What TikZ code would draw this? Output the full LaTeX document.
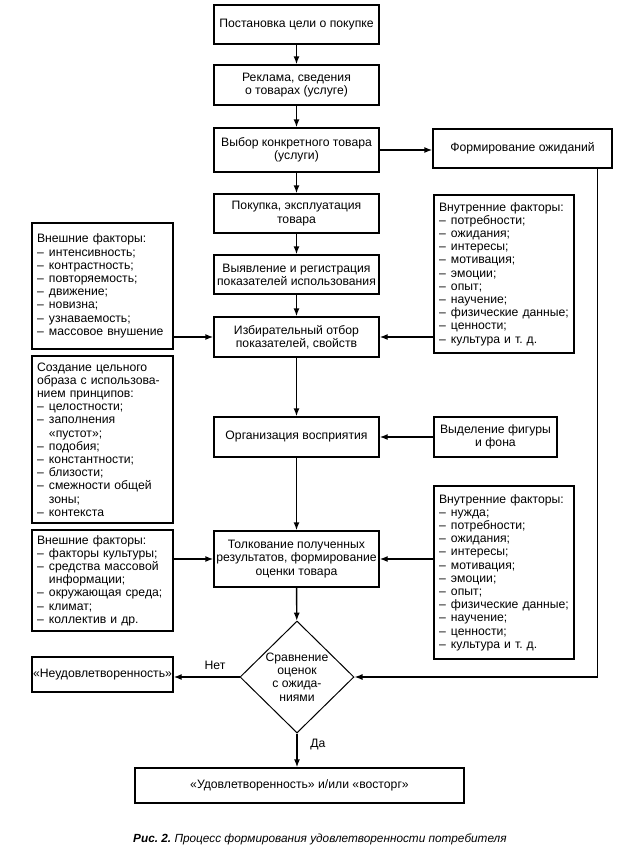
\documentclass[tikz,border=0pt]{standalone}
\usepackage{fontspec}
\setmainfont{Liberation Sans}
\usetikzlibrary{shapes.geometric,arrows.meta,calc}
\frenchspacing
\newcommand\fs{\fontsize{12.2}{13.2}\selectfont}
\newcommand\itm{\makebox[12pt][l]{–}}
\newcommand\cnt{\hspace*{12pt}}
\tikzset{
 box/.style={draw, line width=1.4pt, align=center, inner sep=1pt, font=\fs, minimum width=165pt},
 listbox/.style={draw, line width=1.4pt, align=left, inner xsep=5pt, inner ysep=2pt, font=\fs},
 arr/.style={line width=1.4pt, -{Latex[length=8pt,width=6pt]}},
 lbl/.style={font=\fs, inner sep=1pt},
}
\begin{document}
\begin{tikzpicture}[x=1pt,y=-1pt]
\useasboundingbox (0,0) rectangle (624,857);
% main column
\node[box, minimum height=39pt] (b1) at (296.5,24.5) {Постановка цели о покупке};
\node[box, minimum height=40pt] (b2) at (296.5,85) {Реклама, сведения\\о товарах (услуге)};
\node[box, minimum height=44pt] (b3) at (296.5,150) {Выбор конкретного товара\\(услуги)};
\node[box, minimum height=39pt, minimum width=179pt] (form) at (522.5,148.5) {Формирование ожиданий};
\node[box, minimum height=39pt] (b4) at (296.5,213.5) {Покупка, эксплуатация\\товара};
\node[box, minimum height=39pt] (b5) at (296.5,274.5) {Выявление и регистрация\\показателей использования};
\node[box, minimum height=40pt] (b6) at (296.5,337) {Избирательный отбор\\показателей, свойств};
\node[box, minimum height=40pt] (org) at (296.5,437) {Организация восприятия};
\node[box, minimum height=56pt] (tolk) at (296.5,559) {Толкование полученных\\результатов, формирование\\оценки товара};
\node[draw, line width=1pt, diamond, inner sep=-5pt, minimum width=114pt, minimum height=112pt, align=center, font=\fs] (dia) at (297,677) {Сравнение\\оценок\\с ожида-\\ниями};
\node[box, minimum height=35pt, minimum width=329pt] (fin) at (299.5,785.5) {«Удовлетворенность» и/или «восторг»};
% left column
\node[listbox, text width=131pt, minimum height=126pt] (ext1) at (102.5,286) {Внешние факторы:\\
\itm интенсивность;\\
\itm контрастность;\\
\itm повторяемость;\\
\itm движение;\\
\itm новизна;\\
\itm узнаваемость;\\
\itm массовое внушение};
\node[listbox, text width=131pt, minimum height=167pt] (cre) at (102.5,439.5) {Создание цельного\\
образа с использова-\\
нием принципов:\\
\itm целостности;\\
\itm заполнения\\
\cnt «пустот»;\\
\itm подобия;\\
\itm константности;\\
\itm близости;\\
\itm смежности общей\\
\cnt зоны;\\
\itm контекста};
\node[listbox, text width=131pt, minimum height=101pt] (ext2) at (102.5,580.5) {Внешние факторы:\\
\itm факторы культуры;\\
\itm средства массовой\\
\cnt информации;\\
\itm окружающая среда;\\
\itm климат;\\
\itm коллектив и др.};
\node[box, minimum height=35pt, minimum width=141pt, inner sep=0pt] (neud) at (102.5,674.5) {«Неудовлетворенность»};
% right column
\node[listbox, text width=130pt, minimum height=158pt] (int1) at (504,274) {Внутренние факторы:\\
\itm потребности;\\
\itm ожидания;\\
\itm интересы;\\
\itm мотивация;\\
\itm эмоции;\\
\itm опыт;\\
\itm научение;\\
\itm физические данные;\\
\itm ценности;\\
\itm культура и т. д.};
\node[box, minimum height=40pt, minimum width=123pt] (vyd) at (495.5,437) {Выделение фигуры\\и фона};
\node[listbox, text width=130pt, minimum height=173pt] (int2) at (504,572.5) {Внутренние факторы:\\
\itm нужда;\\
\itm потребности;\\
\itm ожидания;\\
\itm интересы;\\
\itm мотивация;\\
\itm эмоции;\\
\itm опыт;\\
\itm физические данные;\\
\itm научение;\\
\itm ценности;\\
\itm культура и т. д.};
% labels
\node[lbl] (no) at (215,665) {Нет};
\node[lbl] (yes) at (318,745) {Да};
\node[anchor=base west, inner sep=0pt, font=\fontsize{11.8}{13}\selectfont\itshape] (cap) at (133,842) {\textbf{Рис. 2.} Процесс формирования удовлетворенности потребителя};
% connectors
\draw[arr] (b1) -- (b2);
\draw[arr] (b2) -- (b3);
\draw[arr] (b3) -- (b4);
\draw[arr] (b4) -- (b5);
\draw[arr] (b5) -- (b6);
\draw[arr] (b6) -- (org);
\draw[arr] (org) -- (tolk);
\draw[arr] (tolk) -- (dia);
\draw[arr] (dia.south) -- (dia.south |- fin.north);
\draw[arr] (b3.east) -- (b3.east -| form.west);
\draw[arr] (ext1.east |- b6.west) -- (b6.west);
\draw[arr] (int1.west |- b6.east) -- (b6.east);
\draw[arr] (vyd.west) -- (org.east);
\draw[arr] (ext2.east |- tolk.west) -- (tolk.west);
\draw[arr] (int2.west |- tolk.east) -- (tolk.east);
\draw[arr] (dia.west) -- (dia.west -| neud.east);
\coordinate (fr) at ($(form.south east)+(-15,0)$);
\draw[arr] (fr) |- (dia.east);
\end{tikzpicture}
\end{document}
